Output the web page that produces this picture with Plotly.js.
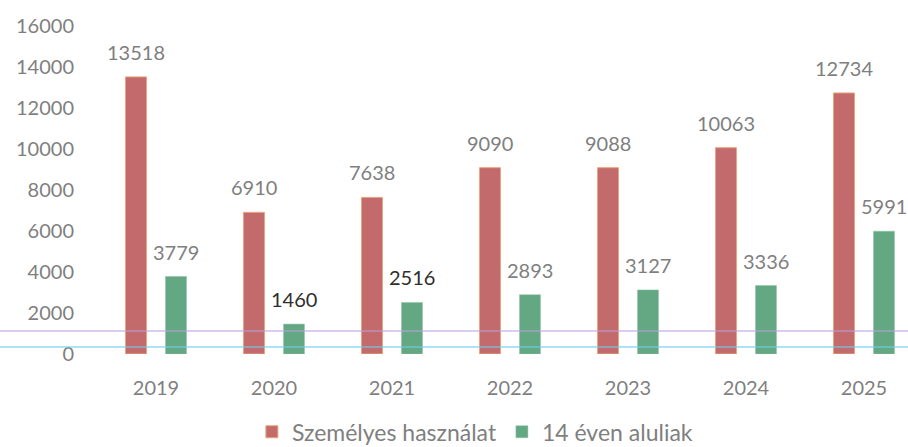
<!DOCTYPE html>
<html>
<head>
<meta charset="utf-8">
<script src="https://cdn.plot.ly/plotly-3.0.1.min.js"></script>
<style>html,body{margin:0;padding:0;background:#fff;}#chart{width:908px;height:447px;}</style>
</head>
<body>
<div id="chart"></div>
<script>
const years = ['2019','2020','2021','2022','2023','2024','2025'];
const szemelyes = [13518, 6910, 7638, 9090, 9088, 10063, 12734];
const aluliak = [3779, 1460, 2516, 2893, 3127, 3336, 5991];
const seriesNames = ['Személyes használat', '14 éven aluliak'];
const yTicks = [0, 2000, 4000, 6000, 8000, 10000, 12000, 14000, 16000];
const darkLabels = ['1460', '2516'];

const gray = '#7f7f7f';
const font = 'Lato, "Open Sans", sans-serif';
const redColor = '#c26a6c';
const greenColor = '#63a883';

const traces = [
  {type:'bar', name: seriesNames[0], x: years, y: szemelyes,
   marker:{color: redColor, line:{color:'#eaa57c', width:1}}, hoverinfo:'none'},
  {type:'bar', name: seriesNames[1], x: years, y: aluliak,
   marker:{color: greenColor, line:{color:'#8cc4a4', width:0.5}}, hoverinfo:'none'}
];

const annotations = [];
function addLabels(vals, shift){
  vals.forEach((v, i) => {
    const t = String(v);
    annotations.push({x: i, y: v, xref:'x', yref:'y', text: t, showarrow:false,
      xshift: shift, yshift: 25, yanchor:'middle', xanchor:'center',
      font:{family: font, size: 20, color: darkLabels.includes(t) ? '#2e2e2e' : gray}});
  });
}
addLabels(szemelyes, -20);
addLabels(aluliak, 20);

const layout = {
  width: 908, height: 447,
  margin: {l: 97, r: 0, t: 26, b: 93},
  paper_bgcolor:'#fff', plot_bgcolor:'#fff',
  barmode:'group', bargap: 0.322, bargroupgap: 0.475,
  font:{family: font, size: 20, color: gray},
  xaxis:{type:'category', range:[-0.5, 6.373], showgrid:false, zeroline:false, showline:false,
    ticks:'', ticklabelstandoff: 20, tickfont:{family: font, size: 20, color: gray}, fixedrange:true},
  yaxis:{range:[0, 16000], tickvals: yTicks, ticktext: yTicks.map(String), showgrid:false, zeroline:false,
    showline:false, ticks:'', ticklabelstandoff: 22, tickfont:{family: font, size: 20, color: gray}, fixedrange:true},
  showlegend:true,
  legend:{orientation:'h', xref:'container', yref:'container', x:0.523, xanchor:'center', y:0.034, yanchor:'middle',
    font:{family: font, size: 23, color: gray}, itemwidth:30, traceorder:'normal'},
  annotations: annotations,
  shapes:[
    {type:'line', xref:'paper', yref:'paper', x0:-0.12, x1:1, y0:0.070, y1:0.070,
     line:{color:'rgba(185,160,225,0.7)', width:1.5}, layer:'above'},
    {type:'line', xref:'paper', yref:'paper', x0:-0.12, x1:1, y0:0.0213, y1:0.0213,
     line:{color:'rgba(110,205,235,0.75)', width:1.5}, layer:'above'}
  ]
};

Plotly.newPlot('chart', traces, layout, {displayModeBar:false, staticPlot:true});
</script>
</body>
</html>
